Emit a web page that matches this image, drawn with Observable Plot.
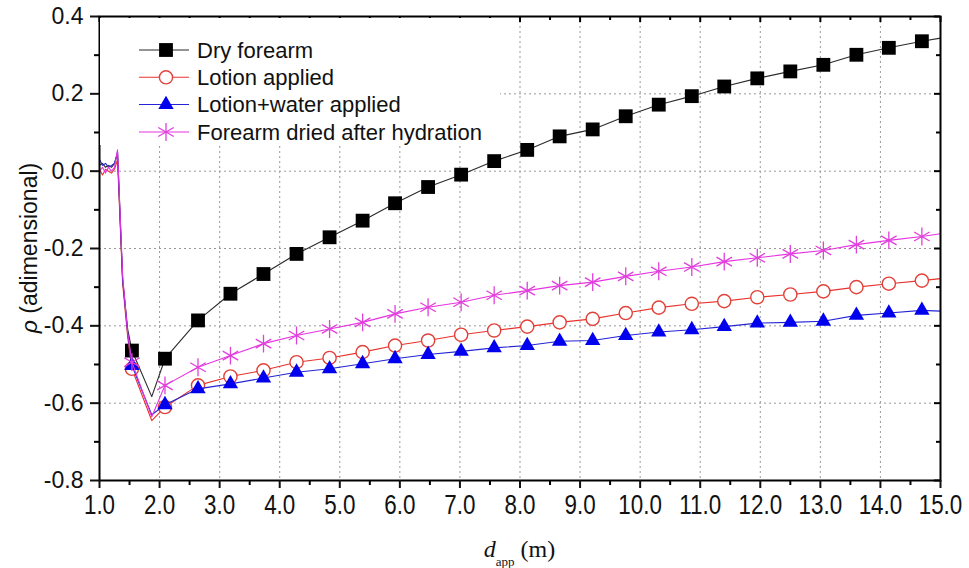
<!DOCTYPE html>
<html>
<head>
<meta charset="utf-8">
<script src="https://cdn.jsdelivr.net/npm/d3@7"></script>
<script src="https://cdn.jsdelivr.net/npm/@observablehq/plot@0.6"></script>
<style>
  body { margin: 0; background: #fff; }
  #chart { position: relative; width: 969px; height: 568px; font-family: "Liberation Sans", Arial, sans-serif; }
  #legend { position: absolute; left: 100px; top: 18px; }
</style>
</head>
<body>
<div id="chart"></div>
<script>
// Series labels, in legend order
const seriesNames = ["Dry forearm", "Lotion applied", "Lotion+water applied", "Forearm dried after hydration"];

// Apparent distance (m): start-up segment, marker positions, dip and last sample
const dEarly = [1.00, 1.05, 1.10, 1.15, 1.20, 1.25, 1.30, 1.385, 1.47];
const dMarkers = [1.54, 2.09, 2.64, 3.18, 3.73, 4.28, 4.83, 5.38, 5.92, 6.47, 7.02, 7.57, 8.12,
                  8.66, 9.21, 9.76, 10.31, 10.86, 11.40, 11.95, 12.50, 13.05, 13.60, 14.14, 14.69];
const dDip = 1.87;
const dEnd = 15.0;

// rho (adimensional) per series
const dryEarly = [0.015, 0.02, 0.01, 0.015, 0.01, 0.02, 0.045, -0.28, -0.41];
const dryDip = -0.583;
const dryMarkers = [-0.464, -0.485, -0.386, -0.317, -0.266, -0.214, -0.171, -0.128, -0.083, -0.041, -0.009, 0.026, 0.055,
                    0.090, 0.108, 0.142, 0.172, 0.194, 0.219, 0.240, 0.258, 0.275, 0.301, 0.319, 0.336];
const dryEnd = 0.344;

const lotionEarly = [0.005, -0.01, 0.005, 0.0, -0.005, 0.005, 0.03, -0.29, -0.43];
const lotionDip = -0.645;
const lotionMarkers = [-0.511, -0.610, -0.554, -0.531, -0.515, -0.494, -0.483, -0.468, -0.451, -0.438, -0.423, -0.412, -0.402,
                       -0.391, -0.382, -0.367, -0.353, -0.343, -0.336, -0.326, -0.319, -0.311, -0.300, -0.291, -0.283];
const lotionEnd = -0.278;

const waterEarly = [0.03, 0.015, 0.02, 0.01, 0.015, 0.02, 0.05, -0.28, -0.42];
const waterDip = -0.630;
const waterMarkers = [-0.503, -0.604, -0.563, -0.550, -0.535, -0.520, -0.511, -0.498, -0.485, -0.474, -0.466, -0.457, -0.451,
                      -0.440, -0.438, -0.425, -0.416, -0.410, -0.402, -0.393, -0.391, -0.388, -0.373, -0.367, -0.360];
const waterEnd = -0.362;

const driedEarly = [0.0, 0.01, -0.005, 0.01, 0.0, 0.01, 0.055, -0.27, -0.42];
const driedDip = -0.635;
const driedMarkers = [-0.494, -0.554, -0.507, -0.477, -0.446, -0.425, -0.408, -0.391, -0.369, -0.352, -0.339, -0.321, -0.309,
                      -0.296, -0.287, -0.272, -0.259, -0.248, -0.234, -0.224, -0.214, -0.205, -0.190, -0.179, -0.169];
const driedEnd = -0.162;

// Axis ticks
const xMajor = [1, 2, 3, 4, 5, 6, 7, 8, 9, 10, 11, 12, 13, 14, 15];
const xMinor = [1.5, 2.5, 3.5, 4.5, 5.5, 6.5, 7.5, 8.5, 9.5, 10.5, 11.5, 12.5, 13.5, 14.5];
const yMajor = [-0.8, -0.6, -0.4, -0.2, 0, 0.2, 0.4];
const yMinor = [-0.7, -0.5, -0.3, -0.1, 0.1, 0.3];

// Styling per series
const styles = [
  {color: "#2b2b2b", symbol: "square",   r: 7.8, fill: "#000",    stroke: "none",    sw: 0},
  {color: "#e8322c", symbol: "circle",   r: 6.6, fill: "#fff",    stroke: "#e2413a", sw: 1.4},
  {color: "#2424d6", symbol: "triangle", r: 5.7, fill: "#0000ee", stroke: "none",    sw: 0},
  {color: "#e633e0", symbol: "asterisk", r: 8.5, fill: "none",    stroke: "#e040dc", sw: 1.3}
];

const raw = [
  [dryEarly, dryDip, dryMarkers, dryEnd],
  [lotionEarly, lotionDip, lotionMarkers, lotionEnd],
  [waterEarly, waterDip, waterMarkers, waterEnd],
  [driedEarly, driedDip, driedMarkers, driedEnd]
];

const series = raw.map(([early, dip, markers, end], i) => {
  const path = [];
  dEarly.forEach((d, j) => path.push({d, rho: early[j]}));
  path.push({d: dMarkers[0], rho: markers[0]});
  path.push({d: dDip, rho: dip});
  for (let k = 1; k < dMarkers.length; k++) path.push({d: dMarkers[k], rho: markers[k]});
  path.push({d: dEnd, rho: end});
  const pts = dMarkers.map((d, k) => ({d, rho: markers[k]}));
  return {name: seriesNames[i], path, pts, ...styles[i]};
});

const W = 969, H = 568, mL = 99, mR = 29, mT = 16, mB = 88;
const iW = W - mL - mR, iH = H - mT - mB;
const fmt = v => v.toFixed(1);
const gridStyle = {stroke: "#999", strokeOpacity: 1, strokeWidth: 1, strokeDasharray: "2,3"};

const chart = Plot.plot({
  width: W,
  height: H,
  marginLeft: mL,
  marginRight: mR,
  marginTop: mT,
  marginBottom: mB,
  style: {fontFamily: "'Liberation Sans', Arial, sans-serif", fontSize: "23px", color: "#111", background: "#fff"},
  x: {domain: [1, 15], label: null},
  y: {domain: [-0.8, 0.4], label: null},
  marks: [
    Plot.gridX(xMajor.slice(1, -1), gridStyle),
    Plot.gridY(yMajor.slice(1, -1), gridStyle),
    ...series.flatMap(s => [
      Plot.line(s.path, {x: "d", y: "rho", stroke: s.color, strokeWidth: 1.1}),
      Plot.dot(s.pts, {x: "d", y: "rho", symbol: s.symbol, r: s.r, fill: s.fill, stroke: s.stroke, strokeWidth: s.sw})
    ]),
    Plot.frame({stroke: "#000", strokeWidth: 2}),
    // bottom / left axes with outward ticks
    Plot.axisX(xMajor, {tickSize: 8, tickPadding: 6, tickFormat: fmt, fontSize: 28, strokeWidth: 2}),
    Plot.ruleX(xMinor, {insetTop: iH, insetBottom: -5, stroke: "#000", strokeWidth: 2}),
    Plot.axisY(yMajor, {tickSize: 9, tickPadding: 7, tickFormat: fmt, fontSize: 23, strokeWidth: 2}),
    Plot.ruleY(yMinor, {insetRight: iW, insetLeft: -5, stroke: "#000", strokeWidth: 2}),
    // mirrored inward ticks on the top and right edges
    Plot.ruleX(xMajor, {insetBottom: iH - 6, stroke: "#000", strokeWidth: 2}),
    Plot.ruleX(xMinor, {insetBottom: iH - 4, stroke: "#000", strokeWidth: 2}),
    Plot.ruleY(yMajor, {insetLeft: iW - 6, stroke: "#000", strokeWidth: 2}),
    Plot.ruleY(yMinor, {insetLeft: iW - 4, stroke: "#000", strokeWidth: 2})
  ]
});

document.getElementById("chart").appendChild(chart);

const svg = d3.select(chart);

// condensed x tick labels
svg.selectAll('[aria-label="x-axis tick label"] text').each(function () {
  const t = d3.select(this);
  t.attr("transform", (t.attr("transform") || "") + " scale(0.8,1)");
});

// x-axis title: d_app (m)
const xt = svg.append("text")
  .attr("x", mL + iW / 2)
  .attr("y", 557)
  .attr("text-anchor", "middle")
  .style("font-family", "'Liberation Serif', 'Times New Roman', serif")
  .style("font-size", "24px")
  .attr("fill", "#111");
xt.append("tspan").style("font-style", "italic").text("d");
xt.append("tspan").attr("dy", 9).style("font-size", "13px").text("app");
xt.append("tspan").attr("dy", -9).text(" (m)");

// y-axis title: rho (adimensional)
const yt = svg.append("text")
  .attr("transform", `translate(37, ${mT + iH / 2}) rotate(-90)`)
  .attr("text-anchor", "middle")
  .style("font-family", "'Liberation Sans', Arial, sans-serif")
  .style("font-size", "23px")
  .attr("fill", "#111");
yt.append("tspan").style("font-style", "italic").text("ρ");
yt.append("tspan").text(" (adimensional)");

// Legend drawn over the upper-left corner of the plot area
const legend = d3.select("#chart").append("svg")
  .attr("id", "legend")
  .attr("width", 400)
  .attr("height", 127);
legend.append("rect").attr("width", 400).attr("height", 127).attr("fill", "#fff");
const rowY = [32, 59.3, 86.5, 114];
series.forEach((s, i) => {
  const g = legend.append("g").attr("transform", `translate(0, ${rowY[i]})`);
  g.append("line").attr("x1", 39).attr("x2", 89).attr("stroke", s.color).attr("stroke-width", 1.1);
  const sym = {square: d3.symbolSquare, circle: d3.symbolCircle, triangle: d3.symbolTriangle, asterisk: d3.symbolAsterisk}[s.symbol];
  g.append("path")
    .attr("transform", "translate(66, 0)")
    .attr("d", d3.symbol(sym, Math.PI * s.r * s.r)())
    .attr("fill", s.fill)
    .attr("stroke", s.stroke)
    .attr("stroke-width", s.sw);
  g.append("text")
    .attr("x", 97)
    .attr("dy", "0.36em")
    .style("font-family", "'Liberation Sans', Arial, sans-serif")
    .style("font-size", "22px")
    .attr("fill", "#111")
    .text(s.name);
});
</script>
</body>
</html>
